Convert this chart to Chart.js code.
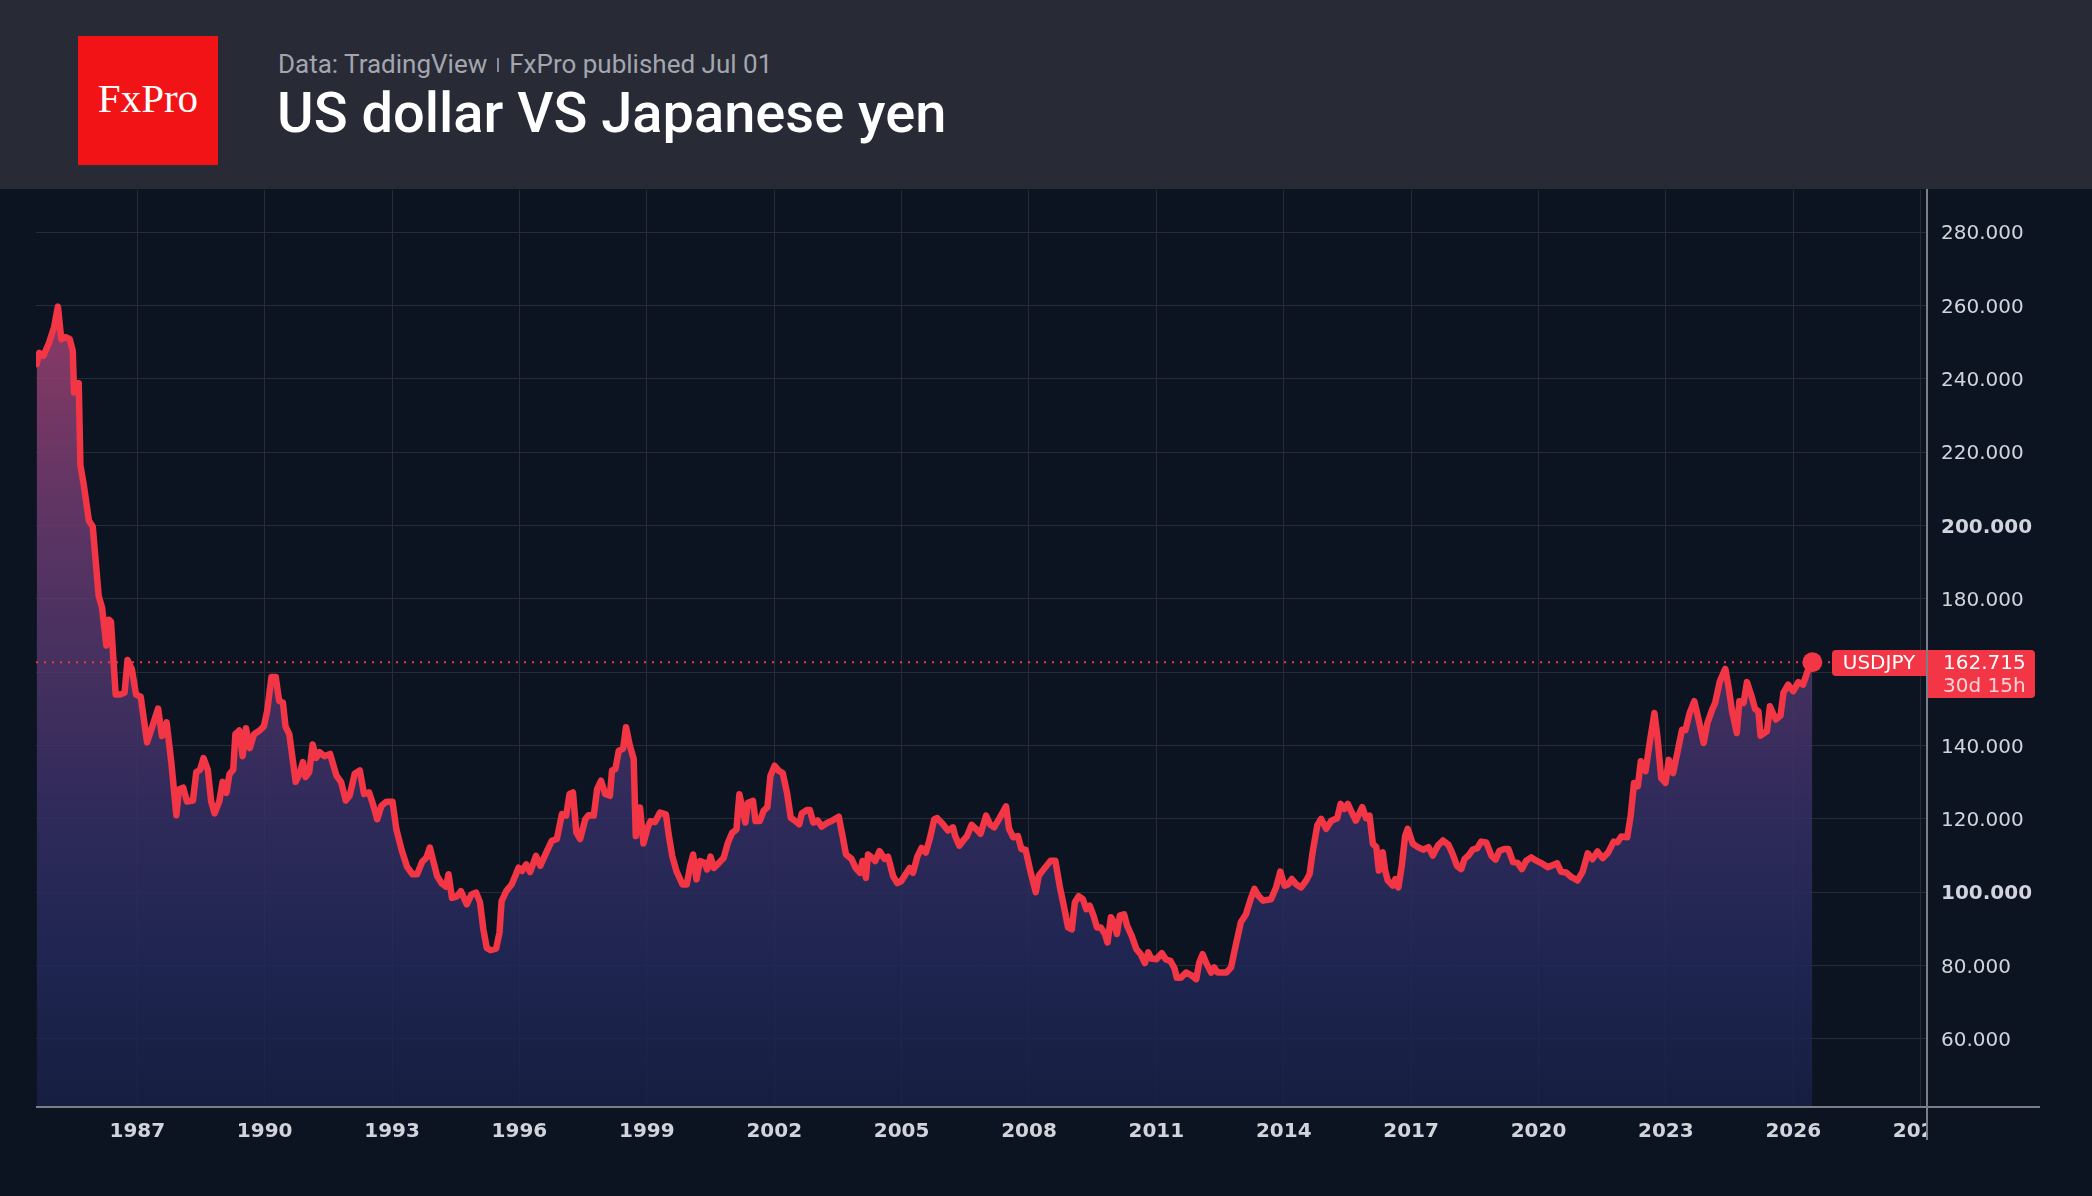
<!DOCTYPE html>
<html>
<head>
<meta charset="utf-8">
<title>US dollar VS Japanese yen</title>
<script src="https://cdn.jsdelivr.net/npm/chart.js@4.4.1/dist/chart.umd.min.js"></script>
<style>
  html, body { margin: 0; padding: 0; width: 2092px; height: 1196px; background: #0d1421; overflow: hidden; }
  .head { position: absolute; left: 0; top: 0; width: 2092px; height: 189px; background: #282a36; }
  .logo { position: absolute; left: 78px; top: 36px; width: 140px; height: 129px; background: #f21316;
          color: #fff; font-family: "Liberation Serif", serif; font-size: 41px; line-height: 41px;
          display: flex; align-items: center; justify-content: center; box-sizing: border-box; padding-bottom: 5px; }
  .sub { position: absolute; left: 278px; top: 51px; font-family: Roboto, sans-serif; font-size: 26px; line-height: 26px; color: #a3a6ae; white-space: nowrap; }
  .sub .sep { display: inline-block; width: 2px; height: 14px; background: #8a8d96; margin: 0 10px 2px 10px; vertical-align: middle; }
  .title { position: absolute; left: 277px; top: 85px; font-family: Roboto, sans-serif; font-weight: 500; font-size: 56px; line-height: 56px; color: #fff; white-space: nowrap; }
  .wrap { position: absolute; left: 0; top: 189px; width: 2092px; height: 1007px; }
</style>
</head>
<body>
<div class="head">
  <div class="logo">FxPro</div>
  <div class="sub">Data: TradingView<span class="sep"></span>FxPro published Jul 01</div>
  <div class="title">US dollar VS Japanese yen</div>
</div>
<div class="wrap"><canvas id="chart" width="2092" height="1007"></canvas></div>

<script>
// ---- data ----
const years = [
  1984.63, 1984.69, 1984.79, 1984.92, 1985.04, 1985.13, 1985.21, 1985.31, 1985.41, 1985.48,
  1985.51, 1985.56, 1985.62, 1985.66, 1985.74, 1985.86, 1985.95, 1986.09, 1986.17, 1986.27,
  1986.33, 1986.38, 1986.49, 1986.58, 1986.70, 1986.77, 1986.87, 1986.97, 1987.08, 1987.23,
  1987.37, 1987.49, 1987.58, 1987.69, 1987.80, 1987.92, 1987.98, 1988.08, 1988.17, 1988.31,
  1988.39, 1988.48, 1988.56, 1988.66, 1988.74, 1988.82, 1988.93, 1989.01, 1989.10, 1989.17,
  1989.26, 1989.31, 1989.40, 1989.48, 1989.56, 1989.65, 1989.75, 1989.88, 1989.98, 1990.06,
  1990.16, 1990.26, 1990.34, 1990.43, 1990.49, 1990.58, 1990.73, 1990.82, 1990.90, 1990.96,
  1991.05, 1991.13, 1991.21, 1991.29, 1991.41, 1991.54, 1991.69, 1991.80, 1991.91, 1992.00,
  1992.12, 1992.24, 1992.34, 1992.46, 1992.55, 1992.65, 1992.75, 1992.87, 1993.01, 1993.10,
  1993.22, 1993.35, 1993.48, 1993.59, 1993.71, 1993.81, 1993.89, 1993.98, 1994.06, 1994.17,
  1994.27, 1994.33, 1994.41, 1994.52, 1994.62, 1994.76, 1994.87, 1994.98, 1995.07, 1995.15,
  1995.23, 1995.32, 1995.45, 1995.53, 1995.58, 1995.69, 1995.82, 1995.90, 1995.98, 1996.06,
  1996.16, 1996.25, 1996.39, 1996.49, 1996.63, 1996.76, 1996.88, 1997.00, 1997.10, 1997.18,
  1997.26, 1997.34, 1997.43, 1997.55, 1997.63, 1997.75, 1997.83, 1997.92, 1998.02, 1998.13,
  1998.18, 1998.26, 1998.34, 1998.44, 1998.51, 1998.60, 1998.69, 1998.74, 1998.84, 1998.92,
  1999.02, 1999.09, 1999.19, 1999.31, 1999.45, 1999.52, 1999.60, 1999.70, 1999.84, 1999.94,
  2000.02, 2000.09, 2000.17, 2000.25, 2000.36, 2000.42, 2000.50, 2000.58, 2000.70, 2000.81,
  2000.91, 2001.01, 2001.11, 2001.18, 2001.24, 2001.32, 2001.38, 2001.50, 2001.56, 2001.66,
  2001.75, 2001.84, 2001.91, 2002.01, 2002.11, 2002.20, 2002.30, 2002.39, 2002.50, 2002.59,
  2002.65, 2002.77, 2002.84, 2002.92, 2003.02, 2003.12, 2003.23, 2003.35, 2003.52, 2003.61,
  2003.69, 2003.82, 2003.92, 2004.02, 2004.08, 2004.16, 2004.21, 2004.31, 2004.38, 2004.48,
  2004.60, 2004.68, 2004.80, 2004.90, 2004.99, 2005.09, 2005.19, 2005.27, 2005.37, 2005.47,
  2005.57, 2005.66, 2005.77, 2005.84, 2005.97, 2006.09, 2006.21, 2006.26, 2006.36, 2006.48,
  2006.54, 2006.65, 2006.75, 2006.86, 2006.99, 2007.09, 2007.18, 2007.34, 2007.46, 2007.53,
  2007.63, 2007.74, 2007.82, 2007.92, 2008.04, 2008.16, 2008.23, 2008.35, 2008.51, 2008.62,
  2008.73, 2008.82, 2008.92, 2009.01, 2009.08, 2009.17, 2009.27, 2009.35, 2009.43, 2009.52,
  2009.60, 2009.69, 2009.79, 2009.85, 2009.93, 2010.00, 2010.07, 2010.14, 2010.24, 2010.31,
  2010.42, 2010.53, 2010.63, 2010.73, 2010.81, 2010.88, 2011.00, 2011.13, 2011.22, 2011.33,
  2011.43, 2011.48, 2011.58, 2011.70, 2011.82, 2011.94, 2012.01, 2012.09, 2012.17, 2012.29,
  2012.36, 2012.44, 2012.56, 2012.65, 2012.76, 2012.85, 2012.99, 2013.11, 2013.22, 2013.31,
  2013.40, 2013.51, 2013.70, 2013.82, 2013.92, 2014.02, 2014.11, 2014.19, 2014.29, 2014.41,
  2014.53, 2014.61, 2014.68, 2014.79, 2014.88, 2015.00, 2015.12, 2015.26, 2015.34, 2015.43,
  2015.51, 2015.60, 2015.70, 2015.85, 2015.94, 2016.02, 2016.10, 2016.18, 2016.24, 2016.33,
  2016.39, 2016.45, 2016.57, 2016.63, 2016.70, 2016.78, 2016.86, 2016.92, 2017.04, 2017.16,
  2017.28, 2017.41, 2017.51, 2017.63, 2017.75, 2017.88, 2017.98, 2018.08, 2018.18, 2018.26,
  2018.35, 2018.45, 2018.56, 2018.65, 2018.77, 2018.89, 2018.99, 2019.08, 2019.20, 2019.29,
  2019.40, 2019.51, 2019.61, 2019.71, 2019.83, 2019.95, 2020.10, 2020.22, 2020.36, 2020.44,
  2020.53, 2020.65, 2020.78, 2020.92, 2021.04, 2021.16, 2021.27, 2021.39, 2021.51, 2021.64,
  2021.77, 2021.86, 2021.95, 2022.09, 2022.17, 2022.25, 2022.34, 2022.41, 2022.52, 2022.63,
  2022.73, 2022.80, 2022.89, 2022.99, 2023.07, 2023.17, 2023.27, 2023.38, 2023.46, 2023.56,
  2023.67, 2023.77, 2023.89, 2023.98, 2024.09, 2024.16, 2024.27, 2024.40, 2024.48, 2024.56,
  2024.67, 2024.73, 2024.83, 2024.91, 2025.02, 2025.10, 2025.18, 2025.23, 2025.38, 2025.45,
  2025.59, 2025.70, 2025.77, 2025.88, 2026.00, 2026.12, 2026.23, 2026.34, 2026.45
];

const rates = [
  244.0, 247.1, 246.3, 249.8, 254.1, 259.7, 250.8, 251.4, 250.8, 247.6,
  236.3, 238.8, 238.8, 216.4, 211.0, 201.3, 199.7, 180.8, 177.6, 167.3,
  174.3, 173.8, 153.9, 153.9, 154.4, 163.3, 160.9, 153.9, 153.3, 140.9,
  145.8, 150.1, 142.6, 146.3, 135.5, 121.0, 128.0, 128.5, 124.7, 125.0,
  132.8, 133.4, 136.6, 133.4, 124.7, 121.5, 124.7, 130.1, 127.1, 132.2,
  133.4, 143.1, 144.1, 137.1, 144.7, 139.3, 143.1, 144.1, 145.2, 149.5,
  158.7, 158.7, 152.2, 151.7, 145.2, 143.1, 130.1, 132.2, 135.5, 131.4,
  132.8, 140.3, 136.6, 138.2, 137.1, 137.7, 131.8, 130.0, 125.0, 126.3,
  132.3, 133.2, 126.8, 127.2, 124.0, 119.9, 123.6, 124.7, 124.7, 117.2,
  111.7, 107.0, 104.9, 104.9, 108.3, 109.5, 112.2, 108.1, 104.4, 102.4,
  101.5, 104.9, 98.5, 98.8, 100.3, 96.7, 99.4, 99.9, 97.3, 89.9,
  84.8, 84.2, 84.6, 89.0, 97.6, 100.3, 102.2, 104.4, 106.7, 105.8,
  107.6, 105.5, 109.9, 107.2, 110.8, 114.0, 114.5, 121.3, 120.9, 126.8,
  127.2, 116.3, 114.5, 119.9, 121.0, 120.9, 128.1, 130.4, 126.8, 126.3,
  133.2, 133.6, 138.6, 139.1, 145.0, 140.0, 136.4, 115.3, 123.1, 113.3,
  117.6, 119.4, 119.1, 121.7, 121.2, 115.3, 109.8, 105.7, 102.1, 102.1,
  107.1, 110.3, 103.5, 108.5, 108.0, 106.2, 109.7, 106.6, 108.0, 109.4,
  113.5, 116.2, 117.1, 126.7, 123.5, 119.0, 124.4, 124.9, 119.4, 119.4,
  122.2, 123.2, 131.7, 134.5, 133.1, 132.5, 127.2, 120.3, 119.4, 118.5,
  121.5, 122.4, 122.4, 119.0, 119.6, 117.9, 118.8, 119.4, 120.6, 115.3,
  110.3, 109.1, 106.6, 105.3, 108.5, 103.9, 110.3, 109.4, 108.5, 111.2,
  109.1, 109.7, 104.4, 102.5, 103.0, 104.8, 106.6, 105.3, 109.7, 112.1,
  110.8, 114.4, 119.9, 120.2, 118.6, 116.8, 117.7, 115.4, 112.7, 114.5,
  115.3, 118.4, 117.3, 115.9, 120.9, 118.4, 117.7, 120.9, 123.4, 117.3,
  115.0, 115.3, 111.8, 111.6, 105.4, 100.0, 104.5, 106.3, 108.6, 108.6,
  101.3, 96.3, 90.4, 89.9, 97.2, 98.9, 98.1, 95.4, 96.3, 93.6,
  90.4, 90.4, 88.6, 86.3, 93.2, 91.8, 88.6, 93.6, 94.0, 90.9,
  88.1, 84.5, 83.1, 80.7, 83.6, 81.9, 81.7, 83.4, 81.7, 81.3,
  79.2, 76.7, 76.7, 78.1, 77.4, 76.3, 80.8, 83.1, 80.8, 78.1,
  79.5, 78.1, 78.1, 78.1, 79.5, 84.5, 91.8, 94.0, 98.1, 100.9,
  99.1, 97.7, 98.1, 101.3, 105.6, 101.8, 102.2, 103.6, 102.2, 101.3,
  103.2, 105.0, 110.9, 118.2, 120.0, 117.3, 119.5, 120.2, 124.1, 122.7,
  124.1, 121.8, 119.5, 123.2, 120.2, 120.9, 113.2, 112.3, 105.9, 110.9,
  105.9, 103.2, 101.8, 103.6, 101.3, 107.2, 115.4, 117.3, 113.2, 112.3,
  111.6, 112.3, 110.0, 112.7, 114.1, 112.9, 110.4, 107.2, 106.3, 109.1,
  110.0, 111.6, 112.0, 113.8, 113.6, 110.0, 108.9, 111.3, 111.8, 111.8,
  108.2, 108.0, 106.3, 108.6, 109.5, 108.6, 107.7, 106.8, 107.5, 107.9,
  105.6, 105.4, 104.1, 103.2, 105.6, 110.6, 109.0, 111.1, 109.3, 110.8,
  113.8, 113.6, 115.2, 115.0, 120.7, 129.8, 128.9, 135.7, 133.0, 141.6,
  148.9, 142.5, 131.1, 129.8, 136.1, 132.5, 138.0, 144.3, 144.2, 148.9,
  152.1, 147.1, 140.7, 146.2, 149.8, 151.6, 157.5, 160.9, 155.7, 149.3,
  143.4, 152.1, 151.6, 157.3, 153.4, 150.0, 149.3, 142.7, 143.9, 150.7,
  147.1, 148.2, 154.4, 156.6, 154.8, 157.3, 156.6, 160.3, 162.715
];

const xTicks = [1987, 1990, 1993, 1996, 1999, 2002, 2005, 2008, 2011, 2014, 2017, 2020, 2023, 2026, 2029];
const yTicks = [60, 80, 100, 120, 140, 160, 180, 200, 220, 240, 260, 280];

const symbol = 'USDJPY';
const lastRate = 162.715;
const timeLeft = '30d 15h';

// ---- colours ----
const bgColor = '#0d1421';
const lineColor = '#f23645';
const gridColor = '#282c35';
const axisColor = '#7b7e87';
const labelColor = '#d1d4dc';

const points = years.map((x, i) => ({ x: x, y: rates[i] }));

// gradient under the line, by value
function areaGradient(chart) {
  const { ctx, chartArea, scales } = chart;
  if (!chartArea) return null;
  const y = scales.y;
  const top = chartArea.top, bottom = chartArea.bottom;
  const g = ctx.createLinearGradient(0, top, 0, bottom);
  const stop = (v, c) => {
    const f = Math.min(1, Math.max(0, (y.getPixelForValue(v) - top) / (bottom - top)));
    g.addColorStop(f, c);
  };
  stop(265, 'rgba(168,65,114,0.85)');
  stop(200, 'rgba(106,58,110,0.85)');
  stop(160, 'rgba(79,53,106,0.85)');
  stop(120, 'rgba(53,46,100,0.85)');
  stop(80, 'rgba(34,40,88,0.85)');
  stop(42, 'rgba(24,32,70,0.85)');
  return g;
}

function box(ctx, x, y, w, h, radii, color) {
  ctx.fillStyle = color;
  ctx.beginPath();
  if (ctx.roundRect) ctx.roundRect(x, y, w, h, radii);
  else ctx.rect(x, y, w, h);
  ctx.fill();
}

// no label overhang padding: keep the plot area where the picture has it
function noPad(s) {
  s.paddingTop = 0;
  s.paddingBottom = 0;
  s.paddingLeft = 0;
  s.paddingRight = 0;
}

// price line, tag, axis lines
const overlay = {
  id: 'overlay',
  afterDatasetsDraw(chart) {
    const { ctx, chartArea: a, scales } = chart;
    const py = scales.y.getPixelForValue(lastRate);
    ctx.save();
    ctx.strokeStyle = lineColor;
    ctx.lineWidth = 2;
    ctx.setLineDash([2, 6]);
    ctx.beginPath();
    ctx.moveTo(a.left, py);
    ctx.lineTo(a.right - 95, py);
    ctx.stroke();
    ctx.restore();
  },
  afterDraw(chart) {
    const { ctx, chartArea: a, scales } = chart;
    const py = Math.round(scales.y.getPixelForValue(lastRate));
    ctx.save();
    // hide the clipped part of the last year label
    ctx.fillStyle = bgColor;
    ctx.fillRect(a.right + 1, a.bottom + 2, 300, 200);

    // axis lines
    ctx.strokeStyle = axisColor;
    ctx.lineWidth = 2;
    ctx.beginPath();
    ctx.moveTo(a.left, a.bottom + 1);
    ctx.lineTo(2040, a.bottom + 1);
    ctx.moveTo(a.right, 0);
    ctx.lineTo(a.right, a.bottom + 34);
    ctx.stroke();

    // symbol / price tag
    box(ctx, a.right - 95, py - 12, 94, 26, [4, 0, 0, 4], lineColor);
    box(ctx, a.right + 1, py - 12, 107, 48, [0, 4, 4, 0], lineColor);
    ctx.font = '20px "DejaVu Sans"';
    ctx.textBaseline = 'middle';
    ctx.fillStyle = '#ffffff';
    ctx.textAlign = 'center';
    ctx.fillText(symbol, a.right - 48, py + 2);
    ctx.textAlign = 'left';
    ctx.fillText(lastRate.toFixed(3), a.right + 16, py + 2);
    ctx.fillStyle = 'rgba(255,255,255,0.78)';
    ctx.fillText(timeLeft, a.right + 16, py + 25);
    ctx.restore();
  }
};

const chart = new Chart(document.getElementById('chart'), {
  type: 'line',
  data: {
    datasets: [{
      label: symbol,
      data: points,
      borderColor: lineColor,
      borderWidth: 6.5,
      borderJoinStyle: 'round',
      borderCapStyle: 'round',
      tension: 0,
      fill: 'start',
      backgroundColor: c => areaGradient(c.chart),
      pointRadius: c => (c.dataIndex === points.length - 1 ? 10 : 0),
      pointHoverRadius: 0,
      pointBackgroundColor: lineColor,
      pointBorderWidth: 0
    }]
  },
  options: {
    responsive: false,
    animation: false,
    layout: { autoPadding: false, padding: { left: 36, top: 1, right: 0, bottom: 0 } },
    plugins: { legend: { display: false }, tooltip: { enabled: false } },
    scales: {
      x: {
        type: 'linear',
        min: 1984.614,
        max: 2029.15,
        afterBuildTicks: s => { s.ticks = xTicks.map(v => ({ value: v })); },
        afterFit: s => { s.height = 90; noPad(s); },
        grid: { color: gridColor, lineWidth: 1, drawTicks: false },
        border: { display: false },
        ticks: {
          color: labelColor,
          font: { family: 'DejaVu Sans', size: 20, weight: 'bold' },
          padding: 14,
          maxRotation: 0,
          autoSkip: false,
          callback: v => String(v)
        }
      },
      y: {
        position: 'right',
        min: 41.7,
        max: 291.5,
        afterBuildTicks: s => { s.ticks = yTicks.map(v => ({ value: v })); },
        afterFit: s => { s.width = 165; noPad(s); },
        grid: { color: gridColor, lineWidth: 1, drawTicks: false },
        border: { display: false },
        ticks: {
          color: labelColor,
          padding: 14,
          labelOffset: 2,
          font: c => ({ family: 'DejaVu Sans', size: 20, weight: (c.tick && c.tick.value % 100 === 0) ? 'bold' : 'normal' }),
          callback: v => Number(v).toFixed(3)
        }
      }
    }
  },
  plugins: [overlay]
});
</script>
</body>
</html>
